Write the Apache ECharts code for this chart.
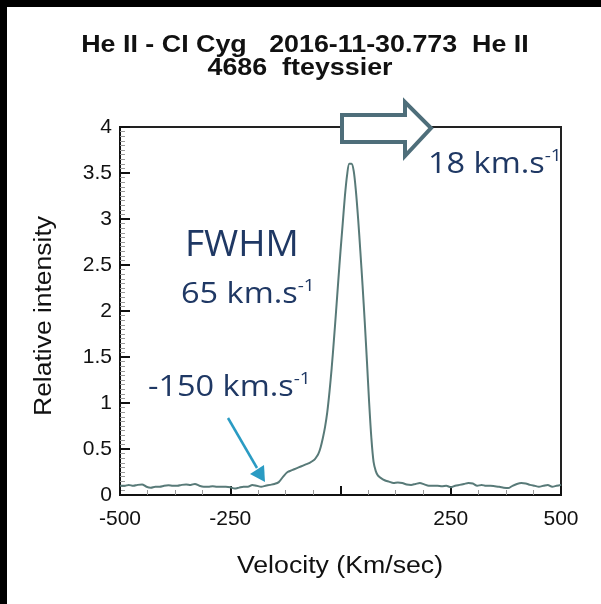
<!DOCTYPE html>
<html>
<head>
<meta charset="utf-8">
<script src="https://cdn.jsdelivr.net/npm/echarts@6/dist/echarts.min.js"></script>
<style>
html,body{margin:0;padding:0;background:#fff;}
#chart{width:601px;height:604px;}
</style>
</head>
<body>
<div id="chart"></div>
<script>
// ---- data ----
const velocity = [-500,-490,-480,-470,-460,-450,-440,-430,-420,-410,-400,-390,-380,-370,-360,-350,-340,-330,-320,-310,-300,-290,-280,-270,-260,-250,-240,-230,-220,-210,-200,-190,-180,-170,-160,-150,-140,-130,-120,-110,-100,-90,-80,-70,-60,-55,-50,-45,-40,-35,-30,-25,-20,-15,-10,-5,0,5,10,15,20,25,30,35,40,45,50,55,60,65,70,75,80,85,90,100,110,120,130,140,150,160,170,180,190,200,210,220,230,240,250,260,270,280,290,300,310,320,330,340,350,360,370,380,390,400,410,420,430,440,450,460,470,480,490,500];
const intensity = [0.10,0.10,0.11,0.10,0.11,0.115,0.09,0.08,0.09,0.09,0.10,0.105,0.10,0.10,0.11,0.115,0.11,0.12,0.10,0.09,0.09,0.095,0.09,0.09,0.09,0.085,0.07,0.08,0.09,0.09,0.11,0.10,0.09,0.10,0.11,0.12,0.14,0.20,0.25,0.27,0.29,0.31,0.33,0.35,0.38,0.41,0.45,0.52,0.62,0.74,0.90,1.12,1.38,1.68,2.00,2.33,2.65,2.95,3.25,3.48,3.60,3.60,3.52,3.30,3.00,2.65,2.28,1.88,1.45,1.00,0.62,0.36,0.26,0.21,0.19,0.16,0.145,0.13,0.135,0.13,0.115,0.11,0.12,0.13,0.115,0.10,0.10,0.10,0.095,0.10,0.085,0.10,0.11,0.12,0.13,0.125,0.10,0.11,0.10,0.10,0.095,0.09,0.08,0.075,0.10,0.12,0.13,0.125,0.11,0.10,0.09,0.10,0.11,0.09,0.10,0.11];
const xTicks = [-500,-250,0,250,500];
const yTicks = [0,0.5,1,1.5,2,2.5,3,3.5,4];
const titleLines = ['He II - CI Cyg   2016-11-30.773  He II', '4686  fteyssier'];
const xName = 'Velocity (Km/sec)';
const yName = 'Relative intensity';
const notes = {fwhm:'FWHM', fwhmVal:'65 km.s', blue:'-150 km.s', shift:'18 km.s', sup:'-1'};

const chart = echarts.init(document.getElementById('chart'), null, {renderer:'canvas'});
const navy = '#1f3864';
const sans = 'Liberation Sans, Arial, sans-serif';
const axisFont = {fontFamily:sans, fontSize:21, color:'#111'};

function noteText(main, x, y, size, sx){
  return {type:'text', x:x, y:y, scaleX:sx, z:20,
    style:{text:'{a|'+main+'}{b|'+notes.sup+'}', rich:{
      a:{fontFamily:'Open Sans', fontSize:size, fill:navy, color:navy},
      b:{fontFamily:'Open Sans', fontSize:Math.round(size*0.6), fill:navy, color:navy, verticalAlign:'top', padding:[0,0,size*0.55,0]}
    }}};
}

chart.setOption({
  animation:false,
  backgroundColor:'#fff',
  grid:{left:120, top:127, right:40, bottom:109, show:true, borderColor:'#222', borderWidth:2, backgroundColor:'transparent'},
  xAxis:{type:'value', min:xTicks[0], max:xTicks[xTicks.length-1], interval:250,
    axisLine:{onZero:false, lineStyle:{color:'#111', width:2}},
    axisTick:{inside:true, length:9, lineStyle:{color:'#111', width:2}},
    minorTick:{show:true, splitNumber:4, length:5, lineStyle:{color:'#999', width:1}},
    splitLine:{show:false},
    axisLabel:Object.assign({margin:14, formatter:v=> v===0?'':String(v)}, axisFont)},
  yAxis:{type:'value', min:yTicks[0], max:yTicks[yTicks.length-1], interval:0.5,
    axisLine:{onZero:false, lineStyle:{color:'#111', width:2}},
    axisTick:{inside:true, length:10, lineStyle:{color:'#111', width:2}},
    minorTick:{show:true, splitNumber:10, length:5, lineStyle:{color:'#999', width:1}},
    splitLine:{show:false},
    axisLabel:Object.assign({margin:8}, axisFont)},
  series:[{type:'line', data:velocity.map((v,i)=>[v,intensity[i]]), showSymbol:false, smooth:0.3,
    lineStyle:{color:'#587a78', width:2}}],
  graphic:[
    {type:'rect', left:0, top:0, shape:{width:7, height:604}, style:{fill:'#000'}, z:30},
    {type:'rect', left:0, top:0, shape:{width:601, height:7}, style:{fill:'#000'}, z:30},
    // title
    {type:'text', x:305, y:46, scaleX:1.22, scaleY:1.05, z:20, style:{text:titleLines[0], fontFamily:sans, fontWeight:'bold', fontSize:22, fill:'#111', align:'center', verticalAlign:'middle'}},
    {type:'text', x:300, y:69, scaleX:1.22, scaleY:1.05, z:20, style:{text:titleLines[1], fontFamily:sans, fontWeight:'bold', fontSize:22, fill:'#111', align:'center', verticalAlign:'middle'}},
    // axis names
    {type:'text', x:340, y:567, scaleX:1.16, z:20, style:{text:xName, fontFamily:sans, fontSize:23, fill:'#111', align:'center', verticalAlign:'middle'}},
    {type:'text', x:45, y:316, rotation:Math.PI/2, scaleX:1.15, z:20, style:{text:yName, fontFamily:sans, fontSize:23, fill:'#111', align:'center', verticalAlign:'middle'}},
    {type:'polygon', z:25, shape:{points:[[342,115],[405,115],[405,102],[431,128],[405,156],[405,142],[342,142]]},
      style:{fill:'#fff', stroke:'#4e6e7a', lineWidth:4, lineJoin:'miter'}},
    {type:'text', x:185, y:227, z:20, style:{text:notes.fwhm, fontFamily:'Open Sans', fontSize:37, fill:navy}},
    noteText(notes.fwhmVal, 181, 278, 29, 1.12),
    noteText(notes.blue, 148, 371, 29, 1.12),
    noteText(notes.shift, 428, 148, 29, 1.12),
    {type:'line', z:20, shape:{x1:228, y1:418, x2:257, y2:468}, style:{stroke:'#2a9bc3', lineWidth:2.5}},
    {type:'polygon', z:20, shape:{points:[[265,482],[250,474],[264,465]]}, style:{fill:'#2a9bc3'}}
  ]
});
</script>
</body>
</html>
